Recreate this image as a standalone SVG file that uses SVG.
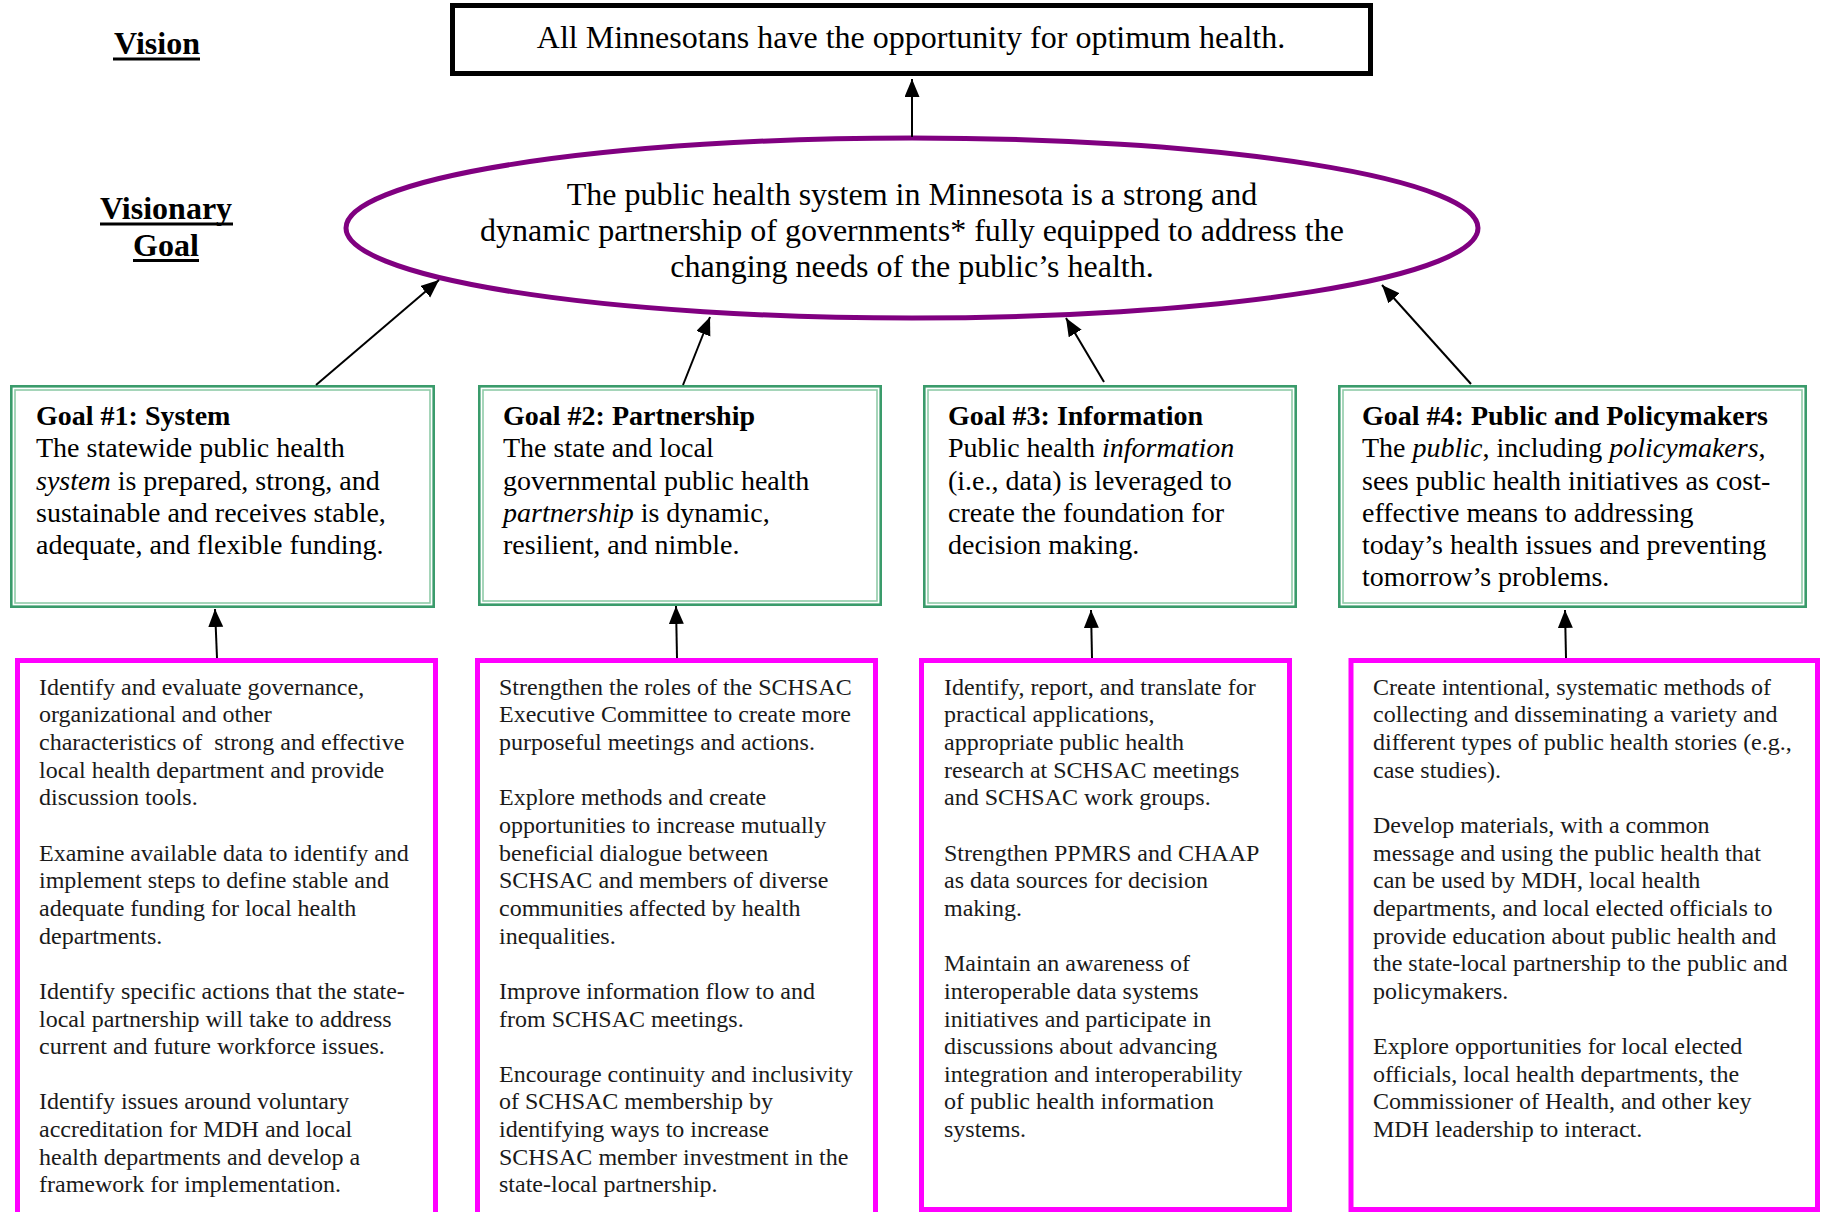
<svg xmlns="http://www.w3.org/2000/svg" width="1821" height="1212" viewBox="0 0 1821 1212">
<style>
.serif{font-family:"Liberation Serif","Times New Roman",serif;}
.lbl{font-family:"Liberation Serif",serif;font-size:32px;font-weight:bold;fill:#000;text-anchor:middle;}
.ul{stroke:#000;stroke-width:3;}
.big{font-family:"Liberation Serif",serif;font-size:32px;fill:#000;text-anchor:middle;}
.goal{font-family:"Liberation Serif",serif;font-size:28px;fill:#000;}
.gt{font-weight:bold;}
.act{font-family:"Liberation Serif",serif;font-size:24px;fill:#1a1a1a;}
.gout{fill:#fff;stroke:#3a9b6b;stroke-width:2.6;}
.gin{fill:none;stroke:#8fcba8;stroke-width:1.6;}
.mag{fill:#fff;stroke:#ff00ff;stroke-width:5;}
.conn line{stroke:#000;stroke-width:2;marker-end:url(#ah);}
</style>
<defs>
<marker id="ah" markerUnits="userSpaceOnUse" markerWidth="20" markerHeight="16" refX="18" refY="7.5" orient="auto">
<path d="M0,0 L18,7.5 L0,15 z" fill="#000"/>
</marker>
</defs>
<rect width="1821" height="1212" fill="#fff"/>

<g id="label-vision">
<text class="lbl" x="157" y="54">Vision</text>
<line class="ul" x1="113" y1="59" x2="200" y2="59"/>
</g>
<g id="label-visionary-goal">
<text class="lbl" x="166" y="218.5">Visionary</text>
<line class="ul" x1="100" y1="224" x2="233" y2="224"/>
<text class="lbl" x="166" y="255.5">Goal</text>
<line class="ul" x1="133" y1="260.5" x2="199" y2="260.5"/>
</g>

<g id="vision">
<rect x="452.5" y="5.5" width="918" height="68" fill="#fff" stroke="#000" stroke-width="5"/>
<text class="big" x="911" y="47.5">All Minnesotans have the opportunity for optimum health.</text>
</g>

<g id="visionary-goal">
<ellipse cx="912" cy="228" rx="566" ry="90" fill="#fff" stroke="#800080" stroke-width="5"/>
<text class="big" x="912" y="204.5">The public health system in Minnesota is a strong and</text>
<text class="big" x="912" y="240.5">dynamic partnership of governments* fully equipped to address the</text>
<text class="big" x="912" y="276.5">changing needs of the public’s health.</text>
</g>

<g id="goal1">
<rect class="gout" x="11.3" y="386.3" width="422.4" height="220.4"/>
<rect class="gin" x="15" y="390" width="415" height="213"/>
<text class="goal" x="36"><tspan class="gt" x="36" y="425">Goal #1: System</tspan><tspan x="36" y="457.3">The statewide public health</tspan><tspan x="36" y="489.5"><tspan font-style="italic">system</tspan> is prepared, strong, and</tspan><tspan x="36" y="521.8">sustainable and receives stable,</tspan><tspan x="36" y="554">adequate, and flexible funding.</tspan></text>
</g>
<g id="goal2">
<rect class="gout" x="479.3" y="386.3" width="401.4" height="218.4"/>
<rect class="gin" x="483" y="390" width="394" height="211"/>
<text class="goal" x="503"><tspan class="gt" x="503" y="425">Goal #2: Partnership</tspan><tspan x="503" y="457.3">The state and local</tspan><tspan x="503" y="489.5">governmental public health</tspan><tspan x="503" y="521.8"><tspan font-style="italic">partnership</tspan> is dynamic,</tspan><tspan x="503" y="554">resilient, and nimble.</tspan></text>
</g>
<g id="goal3">
<rect class="gout" x="924.3" y="386.3" width="371.4" height="220.4"/>
<rect class="gin" x="928" y="390" width="364" height="213"/>
<text class="goal" x="948"><tspan class="gt" x="948" y="425">Goal #3: Information</tspan><tspan x="948" y="457.3">Public health <tspan font-style="italic">information</tspan></tspan><tspan x="948" y="489.5">(i.e., data) is leveraged to</tspan><tspan x="948" y="521.8">create the foundation for</tspan><tspan x="948" y="554">decision making.</tspan></text>
</g>
<g id="goal4">
<rect class="gout" x="1339.3" y="386.3" width="466.4" height="220.4"/>
<rect class="gin" x="1343" y="390" width="459" height="213"/>
<text class="goal" x="1362"><tspan class="gt" x="1362" y="425">Goal #4: Public and Policymakers</tspan><tspan x="1362" y="457.3">The <tspan font-style="italic">public</tspan>, including <tspan font-style="italic">policymakers</tspan>,</tspan><tspan x="1362" y="489.5">sees public health initiatives as cost-</tspan><tspan x="1362" y="521.8">effective means to addressing</tspan><tspan x="1362" y="554">today’s health issues and preventing</tspan><tspan x="1362" y="586.3">tomorrow’s problems.</tspan></text>
</g>

<g id="actions1">
<rect class="mag" x="17.5" y="660.5" width="418" height="570"/>
<text class="act" xml:space="preserve"><tspan x="39" y="694.7">Identify and evaluate governance,</tspan><tspan x="39" y="722.35">organizational and other</tspan><tspan x="39" y="750">characteristics of  strong and effective</tspan><tspan x="39" y="777.65">local health department and provide</tspan><tspan x="39" y="805.3">discussion tools.</tspan><tspan x="39" y="860.6">Examine available data to identify and</tspan><tspan x="39" y="888.25">implement steps to define stable and</tspan><tspan x="39" y="915.9">adequate funding for local health</tspan><tspan x="39" y="943.55">departments.</tspan><tspan x="39" y="998.85">Identify specific actions that the state-</tspan><tspan x="39" y="1026.5">local partnership will take to address</tspan><tspan x="39" y="1054.15">current and future workforce issues.</tspan><tspan x="39" y="1109.45">Identify issues around voluntary</tspan><tspan x="39" y="1137.1">accreditation for MDH and local</tspan><tspan x="39" y="1164.75">health departments and develop a</tspan><tspan x="39" y="1192.4">framework for implementation.</tspan></text>
</g>
<g id="actions2">
<rect class="mag" x="477.5" y="660.5" width="398" height="570"/>
<text class="act"><tspan x="499" y="694.7">Strengthen the roles of the SCHSAC</tspan><tspan x="499" y="722.35">Executive Committee to create more</tspan><tspan x="499" y="750">purposeful meetings and actions.</tspan><tspan x="499" y="805.3">Explore methods and create</tspan><tspan x="499" y="832.95">opportunities to increase mutually</tspan><tspan x="499" y="860.6">beneficial dialogue between</tspan><tspan x="499" y="888.25">SCHSAC and members of diverse</tspan><tspan x="499" y="915.9">communities affected by health</tspan><tspan x="499" y="943.55">inequalities.</tspan><tspan x="499" y="998.85">Improve information flow to and</tspan><tspan x="499" y="1026.5">from SCHSAC meetings.</tspan><tspan x="499" y="1081.8">Encourage continuity and inclusivity</tspan><tspan x="499" y="1109.45">of SCHSAC membership by</tspan><tspan x="499" y="1137.1">identifying ways to increase</tspan><tspan x="499" y="1164.75">SCHSAC member investment in the</tspan><tspan x="499" y="1192.4">state-local partnership.</tspan></text>
</g>
<g id="actions3">
<rect class="mag" x="921.5" y="660.5" width="368" height="549"/>
<text class="act"><tspan x="944" y="694.7">Identify, report, and translate for</tspan><tspan x="944" y="722.35">practical applications,</tspan><tspan x="944" y="750">appropriate public health</tspan><tspan x="944" y="777.65">research at SCHSAC meetings</tspan><tspan x="944" y="805.3">and SCHSAC work groups.</tspan><tspan x="944" y="860.6">Strengthen PPMRS and CHAAP</tspan><tspan x="944" y="888.25">as data sources for decision</tspan><tspan x="944" y="915.9">making.</tspan><tspan x="944" y="971.2">Maintain an awareness of</tspan><tspan x="944" y="998.85">interoperable data systems</tspan><tspan x="944" y="1026.5">initiatives and participate in</tspan><tspan x="944" y="1054.15">discussions about advancing</tspan><tspan x="944" y="1081.8">integration and interoperability</tspan><tspan x="944" y="1109.45">of public health information</tspan><tspan x="944" y="1137.1">systems.</tspan></text>
</g>
<g id="actions4">
<rect class="mag" x="1351" y="660.5" width="466.5" height="549"/>
<text class="act"><tspan x="1373" y="694.7">Create intentional, systematic methods of</tspan><tspan x="1373" y="722.35">collecting and disseminating a variety and</tspan><tspan x="1373" y="750">different types of public health stories (e.g.,</tspan><tspan x="1373" y="777.65">case studies).</tspan><tspan x="1373" y="832.95">Develop materials, with a common</tspan><tspan x="1373" y="860.6">message and using the public health that</tspan><tspan x="1373" y="888.25">can be used by MDH, local health</tspan><tspan x="1373" y="915.9">departments, and local elected officials to</tspan><tspan x="1373" y="943.55">provide education about public health and</tspan><tspan x="1373" y="971.2">the state-local partnership to the public and</tspan><tspan x="1373" y="998.85">policymakers.</tspan><tspan x="1373" y="1054.15">Explore opportunities for local elected</tspan><tspan x="1373" y="1081.8">officials, local health departments, the</tspan><tspan x="1373" y="1109.45">Commissioner of Health, and other key</tspan><tspan x="1373" y="1137.1">MDH leadership to interact.</tspan></text>
</g>

<g id="connectors" class="conn">
<line x1="912" y1="137" x2="912" y2="79"/>
<line x1="316" y1="385" x2="439" y2="280"/>
<line x1="683" y1="385" x2="710" y2="317"/>
<line x1="1104" y1="382" x2="1066" y2="318"/>
<line x1="1471" y1="384" x2="1382" y2="285"/>
<line x1="217" y1="658" x2="215" y2="609"/>
<line x1="677" y1="658" x2="676" y2="606"/>
<line x1="1092" y1="658" x2="1091" y2="610"/>
<line x1="1566" y1="658" x2="1565" y2="610"/>
</g>
</svg>
